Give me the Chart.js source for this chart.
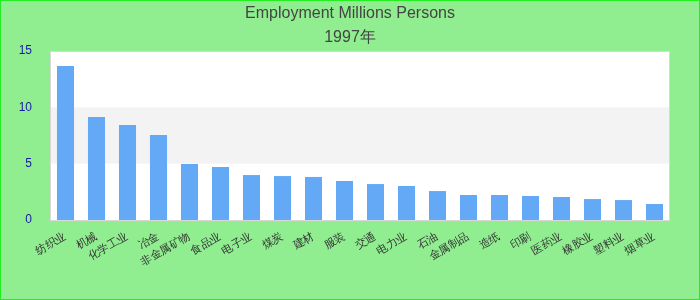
<!DOCTYPE html>
<html>
<head>
<meta charset="utf-8">
<script src="https://cdn.jsdelivr.net/npm/chart.js@4/dist/chart.umd.min.js"></script>
<style>
  html, body { margin: 0; padding: 0; background: #90ee90; }
  #wrap { width: 698px; height: 298px; border: 1px solid #22ee22; }
</style>
</head>
<body>
<div id="wrap"><canvas id="barChart"></canvas></div>
<script>
// Dados
const labels = ['纺织业', '机械', '化学工业', '冶金', '非金属矿物', '食品业', '电子业', '煤炭', '建材', '服装',
  '交通', '电力业', '石油', '金属制品', '造纸', '印刷', '医药业', '橡胶业', '塑料业', '烟草业'];
const values = [13.66, 9.14, 8.43, 7.54, 4.97, 4.70, 3.99, 3.90, 3.82, 3.46,
  3.19, 3.02, 2.57, 2.22, 2.22, 2.13, 2.04, 1.86, 1.77, 1.42];
const titleLines = ['Employment Millions Persons', '1997年'];
const yTicks = [0, 5, 10, 15];

// fundo da área do gráfico com faixa cinza entre 5 e 10
const plotBg = {
  id: 'plotBg',
  beforeDraw(chart) {
    const { ctx, chartArea: a, scales: { y } } = chart;
    ctx.save();
    ctx.fillStyle = '#ffffff';
    ctx.fillRect(a.left, a.top, a.width, a.height);
    ctx.fillStyle = '#f3f3f3';
    const t = y.getPixelForValue(10), b = y.getPixelForValue(5);
    ctx.fillRect(a.left, t, a.width, b - t);
    ctx.strokeStyle = '#d8d8d8';
    ctx.lineWidth = 1;
    ctx.strokeRect(a.left + 0.5, a.top + 0.5, a.width - 1, a.height);
    ctx.restore();
  }
};

const ctxBar = document.getElementById('barChart').getContext('2d');
const barChart = new Chart(ctxBar, {
  type: 'bar',
  data: {
    labels: labels,
    datasets: [{
      data: values,
      backgroundColor: '#63a9f5',
      borderWidth: 0,
      barPercentage: 0.55,
      categoryPercentage: 1
    }]
  },
  options: {
    responsive: true,
    maintainAspectRatio: false,
    animation: false,
    plugins: {
      legend: { display: false },
      tooltip: { enabled: false },
      title: {
        display: true,
        text: titleLines,
        color: '#444444',
        font: { family: 'Liberation Sans, Arial, sans-serif', size: 16, weight: 'normal', lineHeight: 1.5 },
        padding: { top: 1, bottom: 1 }
      }
    },
    scales: {
      x: {
        grid: { display: false },
        border: { display: false },
        ticks: {
          color: '#333333',
          font: { family: 'Liberation Sans, Arial, sans-serif', size: 11 },
          minRotation: 30,
          maxRotation: 30,
          autoSkip: false,
          padding: 2
        },
        afterFit(s) { s.height = 79; }
      },
      y: {
        min: 0,
        max: 15,
        grid: { display: false },
        border: { display: false },
        afterBuildTicks(s) { s.ticks = yTicks.map(v => ({ value: v })); },
        ticks: {
          color: '#1818a8',
          font: { family: 'Liberation Sans, Arial, sans-serif', size: 12 },
          padding: 10
        },
        afterFit(s) { s.width = 49; }
      },
      // eixo vazio só para dar margem à direita
      yRight: {
        position: 'right',
        min: 0,
        max: 15,
        grid: { display: false },
        border: { display: false },
        ticks: { display: false },
        afterFit(s) { s.width = 29; }
      }
    }
  },
  plugins: [plotBg]
});
</script>
</body>
</html>
